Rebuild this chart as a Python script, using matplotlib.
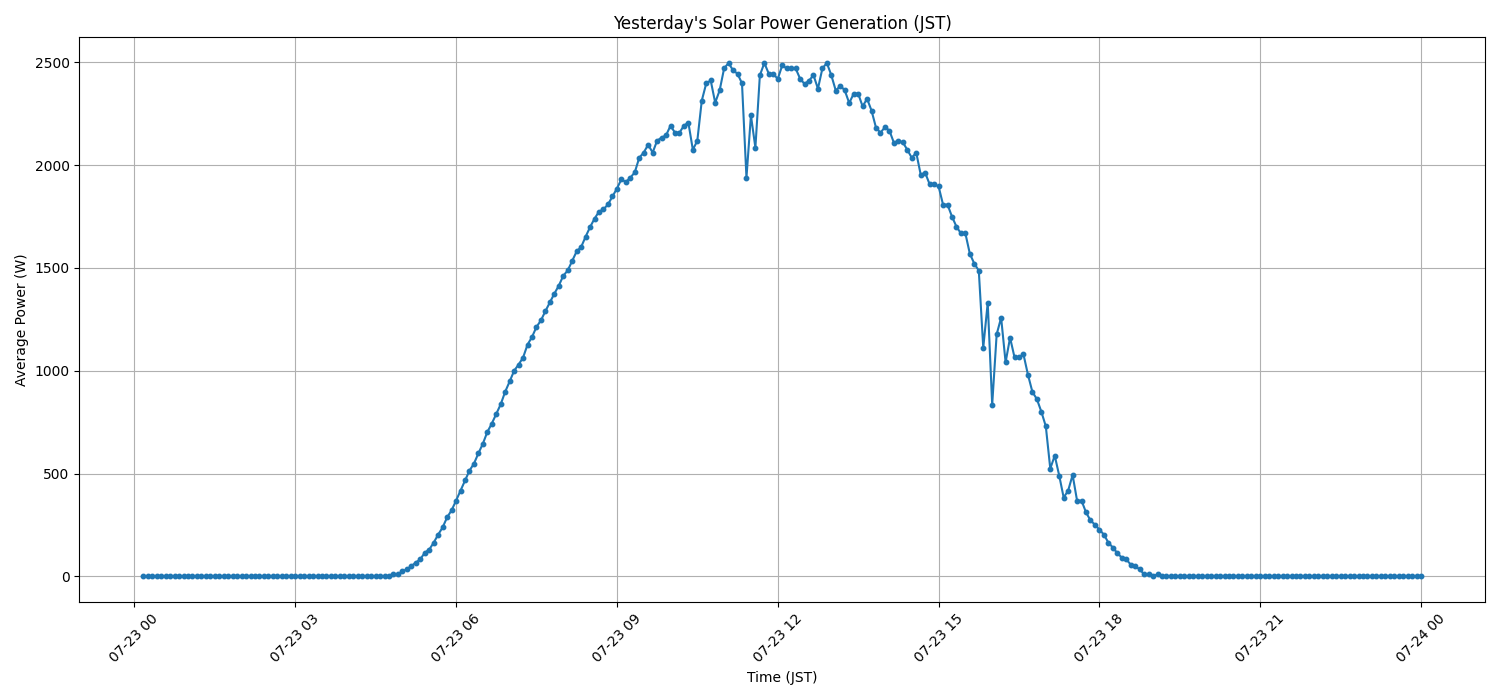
import numpy as np
import matplotlib
import matplotlib.pyplot as plt
import matplotlib.dates as mdates
import pandas as pd

matplotlib.use('agg')

# 5-minute averages, 07-23 00:10 .. 07-24 00:00 (JST)
times = pd.date_range('2024-07-23 00:10', '2024-07-24 00:00', freq='5min')

night_before = [0] * 56
morning = [10, 10, 24, 34, 50, 67, 83, 115, 130, 164, 203, 238, 287, 321, 368,
           417, 467, 514, 548, 598, 645, 702, 743, 790, 837, 898, 948, 1000,
           1030, 1064, 1127, 1164, 1213, 1245, 1290, 1333, 1375, 1414, 1462,
           1488, 1535, 1581, 1602, 1652, 1699, 1740, 1774, 1785, 1809, 1848,
           1886]
midday = [1931, 1918, 1939, 1965, 2036, 2061, 2100, 2061, 2119, 2134, 2145,
          2192, 2158, 2158, 2192, 2207, 2075, 2119, 2314, 2398, 2412, 2304,
          2364, 2471, 2497, 2461, 2445, 2398, 1939, 2242, 2085, 2437, 2497,
          2445, 2445, 2419, 2485, 2471, 2471, 2471, 2421, 2395, 2411, 2438,
          2372, 2471, 2497, 2437, 2362, 2387, 2364, 2302, 2348, 2348, 2286,
          2323, 2265, 2182, 2158, 2185, 2168, 2109, 2119, 2111, 2075, 2036,
          2061, 1954, 1963, 1907, 1907, 1897, 1808, 1808, 1750, 1701, 1668,
          1668, 1569, 1521, 1487]
afternoon = [1112, 1331, 835, 1177, 1258, 1041, 1161, 1065, 1065, 1080, 981,
             897, 862, 801, 730, 524, 587, 490, 383, 417, 493, 368, 368, 311,
             272, 251, 227, 203, 164, 140, 113, 91, 83, 57, 49, 34, 10, 10, 0,
             10, 0]
night_after = [0] * 58

power = night_before + morning + midday + afternoon + night_after
df = pd.DataFrame({'time': times, 'power': power})

plt.figure(figsize=(15, 7), dpi=100)
plt.plot(df['time'], df['power'], marker='o', markersize=3.2, color='#1f77b4')
plt.title("Yesterday's Solar Power Generation (JST)")
plt.xlabel('Time (JST)')
plt.ylabel('Average Power (W)')
plt.grid(True)

ax = plt.gca()
ax.xaxis.set_major_locator(mdates.HourLocator(byhour=range(0, 24, 3)))
ax.xaxis.set_major_formatter(mdates.DateFormatter('%m-%d %H'))
plt.xticks(rotation=45)

plt.tight_layout()
plt.savefig('out.png')
